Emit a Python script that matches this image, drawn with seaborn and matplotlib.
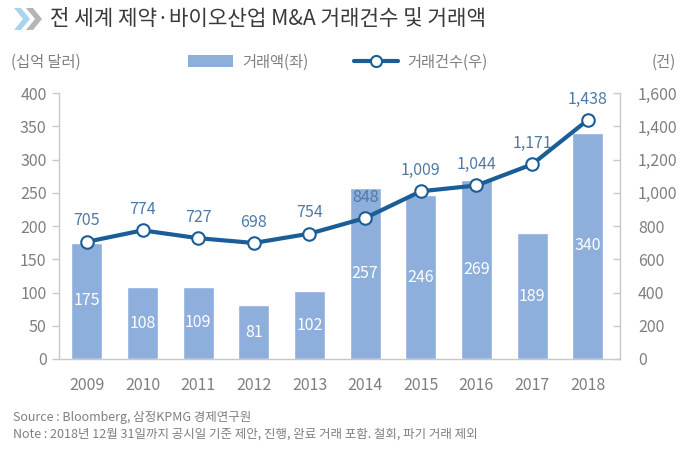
import matplotlib
matplotlib.use("Agg")
import matplotlib.pyplot as plt
import seaborn as sns
import pandas as pd
import numpy as np
from matplotlib.patches import Polygon, Patch
from matplotlib.lines import Line2D
from matplotlib.ticker import FuncFormatter

years = ["2009", "2010", "2011", "2012", "2013", "2014", "2015", "2016", "2017", "2018"]
deal_value = [175, 108, 109, 81, 102, 257, 246, 269, 189, 340]
deal_count = [705, 774, 727, 698, 754, 848, 1009, 1044, 1171, 1438]
left_ticks = [0, 50, 100, 150, 200, 250, 300, 350, 400]
right_ticks = [0, 200, 400, 600, 800, 1000, 1200, 1400, 1600]

title = "전 세계 제약·바이오산업 M&A 거래건수 및 거래액"
left_unit = "(십억 달러)"
right_unit = "(건)"
bar_label = "거래액(좌)"
line_label = "거래건수(우)"
source = "Source : Bloomberg, 삼정KPMG 경제연구원"
note = "Note : 2018년 12월 31일까지 공시일 기준 제안, 진행, 완료 거래 포함. 철회, 파기 거래 제외"

sns.set_theme(style="white")
plt.rcParams['font.family'] = ['Noto Sans CJK KR', 'DejaVu Sans']

BAR = "#8eaedb"
LINE = "#1b5d97"
LBL = "#4f7aa5"
GREY_TXT = "#7f7f7f"
AXIS = "#c8c8c8"
W, H = 680, 454

df = pd.DataFrame({"year": years, "value": deal_value, "count": deal_count})
df["pos"] = np.arange(len(years))

fig = plt.figure(figsize=(6.8, 4.54), dpi=100)
ax = fig.add_axes([0.0868, 0.2093, 0.9118 - 0.0868, 0.795 - 0.2093])
sns.barplot(data=df, x="year", y="value", color=BAR, width=0.56, saturation=1, ax=ax, zorder=1)
ax.set_ylim(0, 400)
ax.set_xlim(-0.5, 9.58)
ax.set_yticks(left_ticks)
ax.set_xlabel("")
ax.set_ylabel("")

for i, v in enumerate(deal_value):
    ax.text(i, v / 2, f"{v}", ha="center", va="center", color="white", fontsize=11.5)

ax2 = ax.twinx()
sns.lineplot(data=df, x="pos", y="count", color=LINE, linewidth=3, marker="o",
             markersize=9, markerfacecolor="white", markeredgecolor=LINE,
             markeredgewidth=1.5, ax=ax2, zorder=3)
ax2.set_ylim(0, 1600)
ax2.set_yticks(right_ticks)
ax2.yaxis.set_major_formatter(FuncFormatter(lambda v, p: f"{int(v):,}"))
ax2.set_xlim(-0.5, 9.58)
ax2.set_xlabel("")
ax2.set_ylabel("")
for i, c in enumerate(deal_count):
    ax2.annotate(f"{c:,}", (i, c), xytext=(0, 15), textcoords="offset points",
                 ha="center", va="center", color=LBL, fontsize=11.5)

for a in (ax, ax2):
    for s in a.spines.values():
        s.set_visible(False)
ax.spines["left"].set_visible(True)
ax.spines["bottom"].set_visible(True)
ax2.spines["right"].set_visible(True)
for s in (ax.spines["left"], ax.spines["bottom"], ax2.spines["right"]):
    s.set_color(AXIS)
    s.set_linewidth(1)

ax.tick_params(axis="y", left=True, length=5, width=1, color=AXIS, labelcolor=GREY_TXT,
               labelsize=11.5, pad=4, direction="out")
ax.tick_params(axis="x", bottom=False, labelcolor=GREY_TXT, labelsize=11.5, pad=7)
ax2.tick_params(axis="y", right=True, length=5, width=1, color=AXIS, labelcolor=GREY_TXT,
                labelsize=11.5, pad=13, direction="in")
ax.grid(False)
ax2.grid(False)

# title chevrons (pixel coords, origin top-left converted)
def px(pts):
    return [(x, H - y) for x, y in pts]

fig.patches.append(Polygon(px([(14, 8), (21, 8), (30, 19), (21, 30), (14, 30), (23, 19)]),
                           closed=True, transform=None, facecolor="#a9d4ef", edgecolor="none"))
fig.patches.append(Polygon(px([(26, 8), (33, 8), (42, 19), (33, 30), (26, 30), (35, 19)]),
                           closed=True, transform=None, facecolor="#b5b5b5", edgecolor="none"))
fig.text(50 / W, 1 - 19 / H, title, ha="left", va="center", fontsize=15.3, color="#3a3a3a")

fig.text(11 / W, 1 - 62 / H, left_unit, ha="left", va="center", fontsize=11, color=GREY_TXT)
fig.text(676 / W, 1 - 62 / H, right_unit, ha="right", va="center", fontsize=11, color=GREY_TXT)

handles = [Patch(facecolor=BAR, edgecolor="none"),
           Line2D([0], [0], color=LINE, linewidth=3, marker="o", markersize=8,
                  markerfacecolor="white", markeredgecolor=LINE, markeredgewidth=1.5)]
leg = fig.legend(handles, [bar_label, line_label], ncol=2, frameon=False,
                 loc="center", bbox_to_anchor=(338 / W, 1 - 62 / H),
                 fontsize=11, handlelength=2.9, handleheight=0.8, columnspacing=3.0, handletextpad=0.6)
for t in leg.get_texts():
    t.set_color(GREY_TXT)

fig.text(13 / W, 1 - 417 / H, source, ha="left", va="center", fontsize=9, color=GREY_TXT)
fig.text(13 / W, 1 - 434 / H, note, ha="left", va="center", fontsize=9, color=GREY_TXT)

fig.savefig("out.png", dpi=100)
